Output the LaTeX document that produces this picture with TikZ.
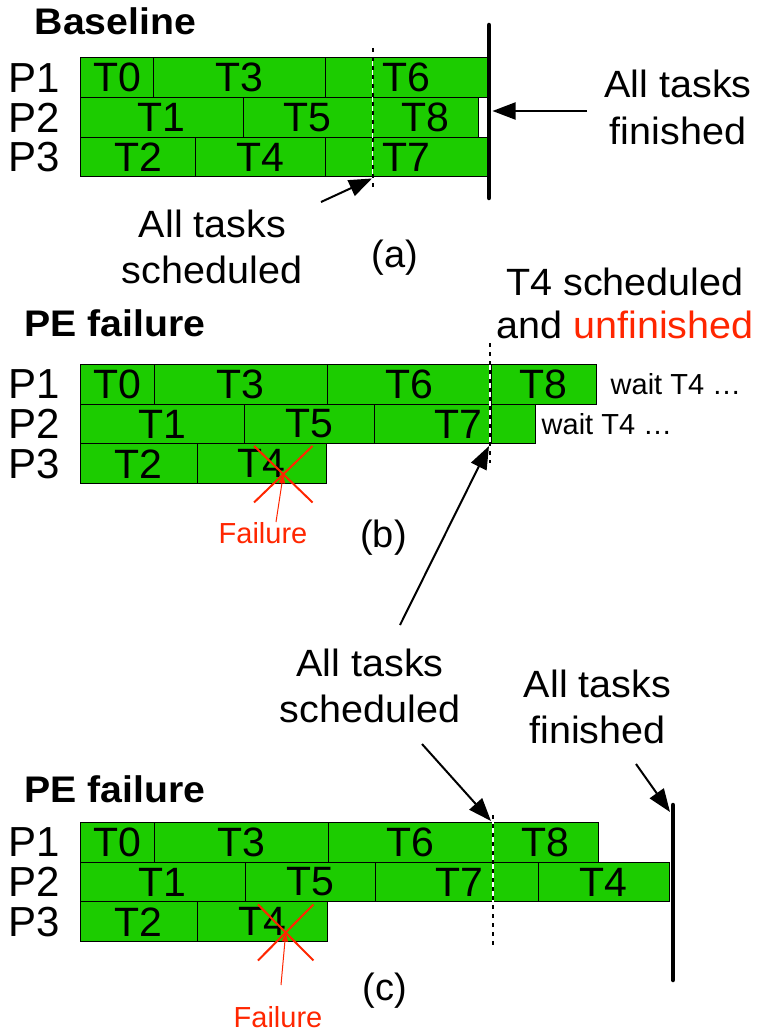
\documentclass[tikz,border=0pt]{standalone}
\usepackage{fontspec}
\setmainfont{Liberation Sans}
\newfontfamily\annfont[FakeStretch=1.04]{Liberation Sans}
\newfontfamily\ttlfont[FakeStretch=1.06]{Liberation Sans}
\usetikzlibrary{arrows.meta,shapes.misc}
\definecolor{taskgreen}{RGB}{28,204,0}
\definecolor{failred}{RGB}{255,38,0}
\tikzset{
  task/.style={draw=black, line width=0.9pt, fill=taskgreen, anchor=north west,
    inner sep=0pt, outer sep=0pt, minimum height=39.7pt, font=\fontsize{41}{41}\selectfont},
  plabel/.style={anchor=west, inner sep=0pt, font=\fontsize{42}{42}\selectfont},
  title/.style={anchor=base west, inner sep=0pt, font=\ttlfont\bfseries\fontsize{37}{37}\selectfont},
  ann/.style={anchor=base, inner sep=0pt, font=\annfont\fontsize{38}{38}\selectfont},
  sub/.style={inner sep=0pt, font=\fontsize{38}{38}\selectfont},
  waitlbl/.style={anchor=west, inner sep=0pt, font=\fontsize{29}{29}\selectfont},
  faillbl/.style={inner sep=0pt, text=failred, font=\fontsize{29}{29}\selectfont},
  finline/.style={line width=4.5pt, line cap=round},
  dotunder/.style={white, line width=1.2pt},
  dotln/.style={black, line width=1.8pt, dash pattern=on 4pt off 5pt},
  arr/.style={-{Triangle[length=23pt,width=17pt]}, line width=2pt},
  failarr/.style={-{Triangle[length=9pt,width=6pt]}, line width=1pt, draw=failred},
  xmark/.style={cross out, draw=failred, line width=2pt, inner sep=0pt, outer sep=0pt},
}
\newcommand\taskbox[5]{\node[task, minimum width={(#3-#2)*1pt}] (#1) at (#2,#4) {#5};}
\begin{document}
\begin{tikzpicture}[x=1pt,y=-1pt]
\fill[white] (0,0) rectangle (761,1033);
\useasboundingbox (0,0) rectangle (761,1033);

% ---------------- (a) Baseline ----------------
\node[title] (ttl-a) at (34.5,35) {Baseline};
\node[plabel] (a-p1) at (8.5,77.7) {P1};
\node[plabel] (a-p2) at (8.5,117.4) {P2};
\node[plabel] (a-p3) at (8.5,157.1) {P3};
\taskbox{a-t0}{80.5}{153.5}{57.8}{T0}
\taskbox{a-t3}{153.5}{325}{57.8}{T3}
\taskbox{a-t6}{325}{487.5}{57.8}{T6}
\taskbox{a-t1}{80.5}{243}{97.5}{T1}
\taskbox{a-t5}{243}{372.5}{97.5}{T5}
\taskbox{a-t8}{372.5}{478.5}{97.5}{T8}
\node[task, fill=white, minimum width=9pt] (a-gap) at (478.5,97.5) {};
\taskbox{a-t2}{80.5}{195.5}{137.2}{T2}
\taskbox{a-t4}{195.5}{325}{137.2}{T4}
\taskbox{a-t7}{325}{487.5}{137.2}{T7}
\coordinate (a-dt) at (372.7,48);
\coordinate (a-db) at (372.7,188);
\draw[dotunder] (a-dt) -- (a-db);
\draw[dotln] (a-dt) -- (a-db);
\coordinate (a-ft) at (489,25);
\coordinate (a-fb) at (489,198);
\draw[finline] (a-ft) -- (a-fb);
\node[ann] (a-fin1) at (678,97) {All tasks};
\node[ann] (a-fin2) at (678,144) {finished};
\coordinate (a-fin-tail) at (587,111);
\coordinate (a-fin-tip) at (492.5,111);
\draw[arr] (a-fin-tail) -- (a-fin-tip);
\node[ann] (a-sch1) at (212.5,237) {All tasks};
\node[ann] (a-sch2) at (212,283.5) {scheduled};
\coordinate (a-sch-tail) at (321,202);
\coordinate (a-sch-tip) at (372,178.5);
\draw[arr] (a-sch-tail) -- (a-sch-tip);
\node[sub] (cap-a) at (395,258) {(a)};

% ---------------- (b) PE failure ----------------
\node[title] (ttl-b) at (24,336) {PE failure};
\node[plabel] (b-p1) at (8.5,384.4) {P1};
\node[plabel] (b-p2) at (8.5,424.1) {P2};
\node[plabel] (b-p3) at (8.5,463.8) {P3};
\taskbox{b-t0}{80.5}{154.5}{364.5}{T0}
\taskbox{b-t3}{154.5}{327}{364.5}{T3}
\taskbox{b-t6}{327}{491}{364.5}{T6}
\taskbox{b-t8}{491}{596}{364.5}{T8}
\taskbox{b-t1}{80.5}{244.5}{404.2}{T1}
\taskbox{b-t5}{244.5}{374.5}{404.2}{T5}
\taskbox{b-t7}{374.5}{491}{404.2}{\hspace*{50.5pt}T7}
\taskbox{b-tx}{491}{535.5}{404.2}{}
\taskbox{b-t2}{80.5}{197}{443.9}{T2}
\taskbox{b-t4}{197}{326.5}{443.9}{T4}
\node[waitlbl] (b-w1) at (610.5,384.4) {wait T4 …};
\node[waitlbl] (b-w2) at (541.5,424.1) {wait T4 …};
\node[xmark, minimum width=58.5pt, minimum height=56.5pt] (b-x) at (283.3,474.2) {};
\node[faillbl] (b-fail) at (263,533) {Failure};
\coordinate (b-fail-tail) at (276,522);
\draw[failarr] (b-fail-tail) -- (b-x.center);
\coordinate (b-dt) at (490,343);
\coordinate (b-db) at (490,463);
\draw[dotunder] (b-dt) -- (b-db);
\draw[dotln] (b-dt) -- (b-db);
\node[ann] (b-note1) at (625,295) {T4 scheduled};
\node[ann] (b-note2) at (625,338) {and \textcolor{failred}{unfinished}};
\node[sub] (cap-b) at (383.5,538) {(b)};
\coordinate (b-sch-tail) at (400,625);
\coordinate (b-sch-tip) at (489,446);
\draw[arr] (b-sch-tail) -- (b-sch-tip);

% ---------------- (c) PE failure ----------------
\node[title] (ttl-c) at (24,802) {PE failure};
\node[plabel] (c-p1) at (8.5,842.4) {P1};
\node[plabel] (c-p2) at (8.5,882.1) {P2};
\node[plabel] (c-p3) at (8.5,921.8) {P3};
\taskbox{c-t0}{80.5}{154.5}{822.5}{T0}
\taskbox{c-t3}{154.5}{328.5}{822.5}{T3}
\taskbox{c-t6}{328.5}{492.5}{822.5}{T6}
\taskbox{c-t8}{492.5}{598}{822.5}{T8}
\taskbox{c-t1}{80.5}{245}{862.2}{T1}
\taskbox{c-t5}{245}{375.5}{862.2}{T5}
\taskbox{c-t7}{375.5}{492.5}{862.2}{\hspace*{50pt}T7}
\taskbox{c-tx}{492.5}{538.5}{862.2}{}
\taskbox{c-t4b}{538.5}{669}{862.2}{T4}
\taskbox{c-t2}{80.5}{197}{901.9}{T2}
\taskbox{c-t4}{197}{327}{901.9}{T4}
\node[xmark, minimum width=55.5pt, minimum height=56pt] (c-x) at (285.7,932.5) {};
\node[faillbl] (c-fail) at (278,1017) {Failure};
\coordinate (c-fail-tail) at (281,985);
\draw[failarr] (c-fail-tail) -- (c-x.center);
\coordinate (c-dt) at (493,815);
\coordinate (c-db) at (493,945);
\draw[dotunder] (c-dt) -- (c-db);
\draw[dotln] (c-dt) -- (c-db);
\coordinate (c-ft) at (673,805);
\coordinate (c-fb) at (673,980);
\draw[finline] (c-ft) -- (c-fb);
\node[ann] (c-sch1) at (370,676) {All tasks};
\node[ann] (c-sch2) at (370,722) {scheduled};
\coordinate (c-sch-tail) at (422,744);
\coordinate (c-sch-tip) at (491,821);
\draw[arr] (c-sch-tail) -- (c-sch-tip);
\node[ann] (c-fin1) at (597.5,697) {All tasks};
\node[ann] (c-fin2) at (597.5,743) {finished};
\coordinate (c-fin-tail) at (636,764);
\coordinate (c-fin-tip) at (670,812);
\draw[arr] (c-fin-tail) -- (c-fin-tip);
\node[sub] (cap-c) at (385,991) {(c)};
\end{tikzpicture}
\end{document}
